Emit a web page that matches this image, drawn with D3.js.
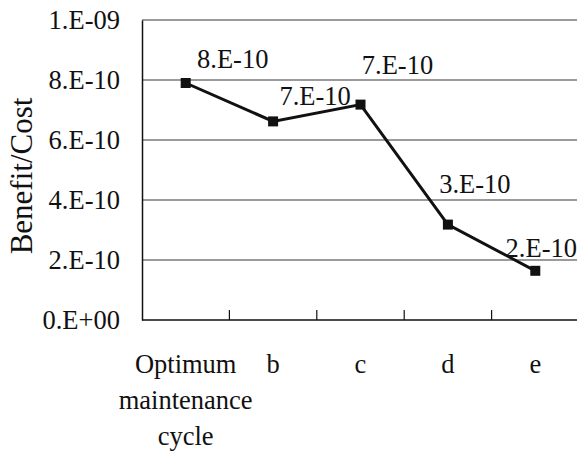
<!DOCTYPE html>
<html>
<head>
<meta charset="utf-8">
<script src="https://cdn.jsdelivr.net/npm/d3@7"></script>
<style>
  body { margin: 0; background: #fff; }
  svg text { font-family: "Liberation Serif", "Times New Roman", serif; fill: #111; }
</style>
</head>
<body>
<svg id="chart" width="577" height="452"></svg>
<script>
const categories = [["Optimum", "maintenance", "cycle"], ["b"], ["c"], ["d"], ["e"]];
const values = [7.9e-10, 6.62e-10, 7.18e-10, 3.18e-10, 1.64e-10];
const yTicks = [0, 2e-10, 4e-10, 6e-10, 8e-10, 1e-9];
// manual nudges for the data labels (dx, dy from the marker)
const labelNudge = [[47, -15], [42, -16], [37, -31], [27, -32], [6, -14]];

const svg = d3.select("#chart");
const margin = { top: 20, left: 142, right: 579, bottom: 320 };
const fs = 26.5;

// Excel style "0.E+00"
function sci(v) {
  if (v === 0) return "0.E+00";
  let e = Math.floor(Math.log10(Math.abs(v)));
  let m = Math.round(v / Math.pow(10, e));
  if (m >= 10) { m = m / 10; e += 1; }
  const sign = e < 0 ? "-" : "+";
  return m + ".E" + sign + String(Math.abs(e)).padStart(2, "0");
}

const keys = categories.map((c, i) => i);
const x = d3.scaleBand().domain(keys).range([margin.left, margin.right]);
const y = d3.scaleLinear().domain([0, 1e-9]).range([margin.bottom, margin.top]);

// gridlines
svg.append("g")
  .selectAll("line")
  .data(yTicks.filter(d => d > 0))
  .enter().append("line")
  .attr("x1", margin.left).attr("x2", 577)
  .attr("y1", d => y(d)).attr("y2", d => y(d))
  .attr("stroke", "#7a7a7a").attr("stroke-width", 1.5);

// y axis
const yAxis = svg.append("g")
  .attr("transform", `translate(${margin.left},0)`)
  .call(d3.axisLeft(y).tickValues(yTicks).tickFormat(sci).tickSize(0).tickPadding(22));
yAxis.select(".domain").attr("stroke", "#111").attr("stroke-width", 1.5);
yAxis.selectAll("text").attr("font-size", fs).attr("fill", "#111");

// x axis
const xAxis = svg.append("g")
  .attr("transform", `translate(0,${margin.bottom})`);
xAxis.append("line")
  .attr("x1", margin.left).attr("x2", 577)
  .attr("y1", 0).attr("y2", 0)
  .attr("stroke", "#111").attr("stroke-width", 1.5);
xAxis.selectAll(".xtick")
  .data(keys.slice(1))
  .enter().append("line")
  .attr("class", "xtick")
  .attr("x1", d => x(d)).attr("x2", d => x(d))
  .attr("y1", 0).attr("y2", -10)
  .attr("stroke", "#111").attr("stroke-width", 1.2);
const xl = xAxis.selectAll(".xlabel")
  .data(categories)
  .enter().append("text")
  .attr("class", "xlabel")
  .attr("text-anchor", "middle")
  .attr("font-size", fs);
xl.selectAll("tspan")
  .data((d, i) => d.map(t => ({ t, i })))
  .enter().append("tspan")
  .attr("x", d => x(d.i) + x.bandwidth() / 2)
  .attr("y", (d, j) => 53 + j * 36)
  .text(d => d.t);

// y title
svg.append("text")
  .attr("transform", "translate(32,176) rotate(-90)")
  .attr("text-anchor", "middle")
  .attr("font-size", 31)
  .text("Benefit/Cost");

// line
const cx = i => x(i) + x.bandwidth() / 2;
svg.append("path")
  .datum(values)
  .attr("fill", "none")
  .attr("stroke", "#111")
  .attr("stroke-width", 3)
  .attr("d", d3.line().x((d, i) => cx(i)).y(d => y(d)));

svg.selectAll(".marker")
  .data(values)
  .enter().append("rect")
  .attr("class", "marker")
  .attr("x", (d, i) => cx(i) - 5)
  .attr("y", d => y(d) - 5)
  .attr("width", 10).attr("height", 10)
  .attr("fill", "#111");

svg.selectAll(".dlabel")
  .data(values)
  .enter().append("text")
  .attr("class", "dlabel")
  .attr("text-anchor", "middle")
  .attr("font-size", fs)
  .attr("x", (d, i) => cx(i) + labelNudge[i][0])
  .attr("y", (d, i) => y(d) + labelNudge[i][1])
  .text(d => sci(d));
</script>
</body>
</html>
